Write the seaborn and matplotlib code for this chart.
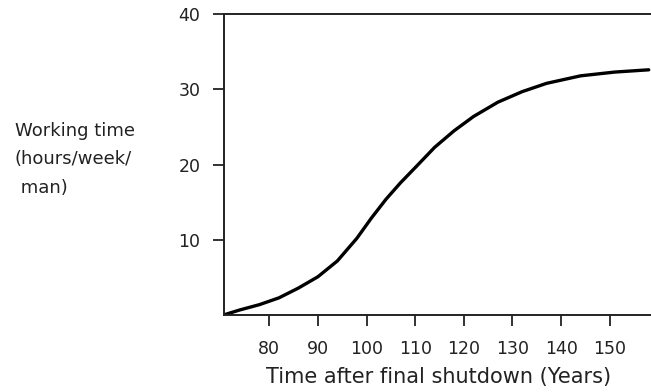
import pandas as pd
import seaborn as sns
import matplotlib.pyplot as plt

# values
years = [71, 74, 78, 82, 86, 90, 94, 98, 101, 104, 107, 110, 114, 118, 122, 127, 132, 137, 144, 151, 158]
hours = [0.1, 0.7, 1.4, 2.3, 3.6, 5.1, 7.2, 10.2, 12.9, 15.4, 17.6, 19.6, 22.3, 24.5, 26.4, 28.3, 29.7, 30.8, 31.8, 32.3, 32.6]
x_ticks = [80, 90, 100, 110, 120, 130, 140, 150]
y_ticks = [10, 20, 30, 40]

df = pd.DataFrame({"Years": years, "Hours": hours})

sns.set_style("ticks")
plt.rcParams["font.family"] = ["DejaVu Sans"]

fig = plt.figure(figsize=(6.51, 3.92), dpi=100)
ax = fig.add_axes([0.344, 0.196, 0.66, 0.768])

sns.lineplot(data=df, x="Years", y="Hours", color="black", linewidth=2.4, ax=ax)

ax.set_xlim(70.7, 159)
ax.set_ylim(0, 40)
ax.set_xticks(x_ticks)
ax.set_yticks(y_ticks)
ax.tick_params(axis="both", direction="out", length=8, width=1.3, labelsize=12.5, colors="#222222")
ax.tick_params(axis="x", pad=10)
ax.tick_params(axis="y", pad=9)

for side in ["left", "bottom", "top"]:
    ax.spines[side].set_linewidth(1.4)
    ax.spines[side].set_color("#222222")
ax.spines["right"].set_visible(False)

ax.set_xlabel("Time after final shutdown (Years)", fontsize=15, color="#222222", labelpad=6)
ax.set_ylabel("")
fig.text(0.023, 0.69, "Working time\n(hours/week/\n man)", fontsize=13, color="#222222",
         ha="left", va="top", linespacing=1.75)

fig.savefig("out.png", dpi=100)
